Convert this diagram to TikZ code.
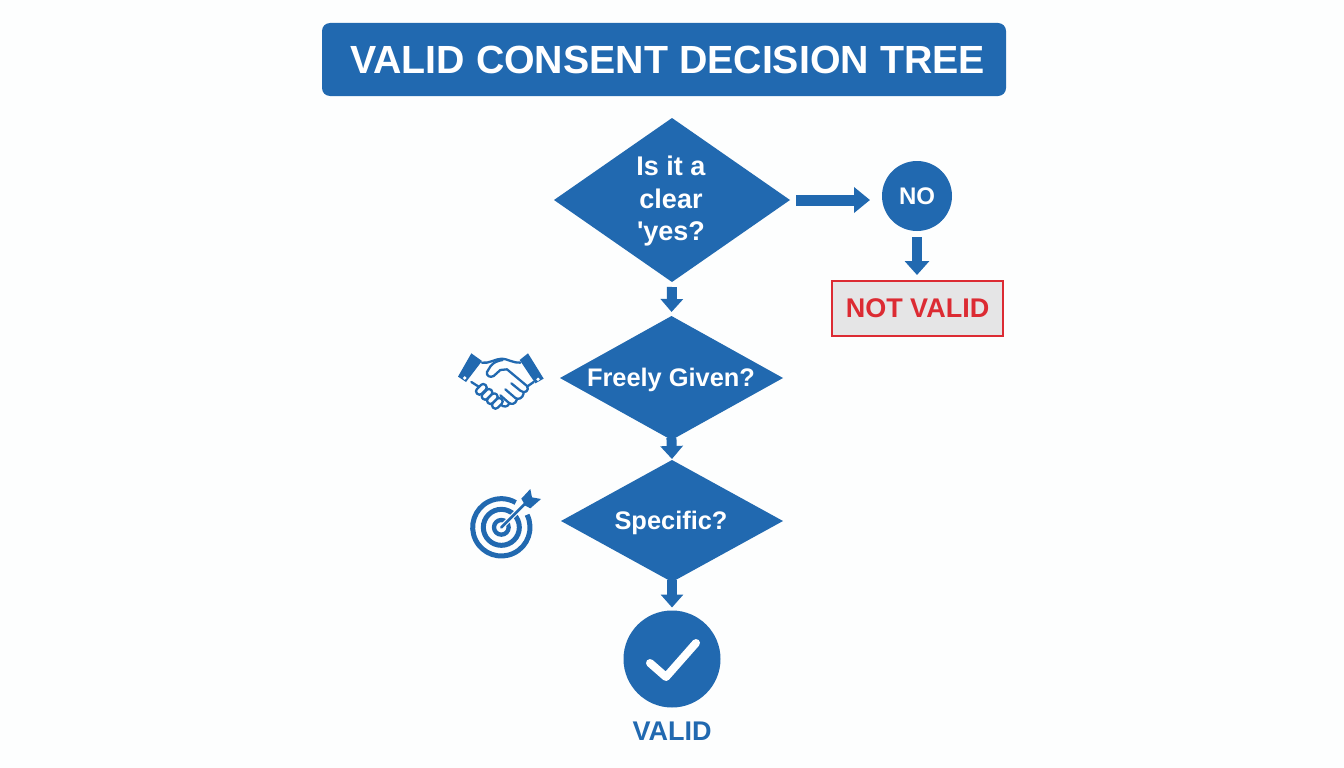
\documentclass[tikz,border=0pt]{standalone}
\usepackage{fontspec}
\setmainfont{Liberation Sans}[Ligatures=TeXOff]
\usetikzlibrary{shapes.geometric,arrows.meta}
\definecolor{cblue}{HTML}{2169B0}
\definecolor{cred}{HTML}{DC2B33}
\definecolor{cgrey}{HTML}{E5E5E6}
\definecolor{cbg}{HTML}{FDFEFE}
\tikzset{
  dia/.style={diamond,fill=cblue,inner sep=0pt,outer sep=0pt},
  lbl/.style={text=white,font=\bfseries\fontsize{25.4}{32}\selectfont,align=center,inner sep=0pt},
  conn/.style={draw=cblue,line width=10pt,-{Triangle[width=24pt,length=14pt]}},
  small conn/.style={draw=cblue,line width=10pt,-{Triangle[width=22pt,length=13pt]}},
  icon line/.style={draw=cblue,line width=2.3pt,line cap=round,line join=round},
  ring/.style={draw=cblue,line width=5pt},
}
\begin{document}
\begin{tikzpicture}[x=1pt,y=-1pt]
\useasboundingbox (0,0) rectangle (1344,768);
\fill[cbg] (0,0) rectangle (1344,768);
% title
\node[fill=cblue,rounded corners=8pt,minimum width=684pt,minimum height=73pt,inner sep=0pt,outer sep=0pt,text=white,font=\bfseries\fontsize{39.3}{42}\selectfont] (title) at (664,59.5) {\hspace*{7pt}VALID CONSENT DECISION TREE};
% diamonds
\node[dia,minimum width=236pt,minimum height=164pt] (d1) at (672,200) {};
\node[lbl,font=\bfseries\fontsize{27}{32.5}\selectfont] (t1) at (671,201.5) {Is it a\\clear\\'yes?};
\node[dia,minimum width=223pt,minimum height=124pt] (d2) at (671.5,378) {};
\node[lbl] (t2) at (671,380) {Freely Given?};
\node[dia,minimum width=222pt,minimum height=122pt] (d3) at (672,521) {};
\node[lbl] (t3) at (671,523) {Specific?};
% no
\node[circle,fill=cblue,minimum size=70pt,inner sep=0pt,outer sep=0pt,text=white,font=\bfseries\fontsize{24}{28}\selectfont] (no) at (917,196) {NO};
\node[rectangle,draw=cred,line width=2pt,fill=cgrey,minimum width=171pt,minimum height=55pt,inner sep=0pt,outer sep=0pt,text=cred,font=\bfseries\fontsize{27}{30}\selectfont] (nv) at (917.5,308.5) {NOT VALID};
% valid
\node[circle,fill=cblue,minimum size=97pt,inner sep=0pt,outer sep=0pt] (ok) at (672,659) {};
\node[text=cblue,font=\bfseries\fontsize{27}{30}\selectfont,inner sep=0pt] (vl) at (672,731) {VALID};
\draw[white,line width=8pt,line cap=round,line join=round] (650,663) -- (666,677) -- (696,643);
% connectors
\draw[conn,line width=11pt,-{Triangle[width=25pt,length=16pt]},shorten <=6pt,shorten >=12pt] (d1.east) -- (d1.east -| no.west);
\draw[conn,shorten <=6pt,shorten >=6pt] (no.south) -- (no.south |- nv.north);
\draw[small conn,shorten <=5pt,shorten >=4pt] (d1.south) -- (d2.north);
\draw[small conn,shorten <=-2pt,shorten >=1pt] (d2.south) -- (d3.north);
\draw[small conn,shorten <=-2pt,shorten >=3pt] (d3.south) -- (ok.north);
% handshake icon
\begin{scope}[shift={(452,346)},scale=1/3]
  \draw[icon line] (90,50) .. controls (110,54) and (130,38) .. (150,38) .. controls (165,38) and (185,52) .. (205,50);
  \draw[icon line] (152,42) .. controls (135,44) and (122,52) .. (116,60) -- (105,78) .. controls (102,90) and (115,96) .. (125,90) -- (145,72) -- (165,70) -- (225,120) .. controls (234,132) and (218,146) .. (205,134) -- (178,112);
  \draw[icon line] (225,122) -- (245,108);
  \draw[icon line] (58,108) -- (80,122);
  \draw[icon line] (215,142) .. controls (212,158) and (198,162) .. (190,156) -- (160,130);
  \draw[icon line] (195,160) .. controls (190,176) and (178,176) .. (170,170) -- (145,148);
  \draw[icon line] (172,172) .. controls (167,184) and (155,184) .. (146,176);
  \foreach \cx/\cy in {88/130,105/145,121/158,136/172}
    \draw[icon line,fill=cbg,rounded corners=3pt,rotate around={45:(\cx,\cy)}] (\cx-18,\cy-10) rectangle (\cx+18,\cy+10);
  \fill[cblue] (58,22) -- (90,45) -- (42,108) -- (18,92) -- cycle;
  \fill[cblue] (228,22) -- (203,42) -- (250,112) -- (275,98) -- cycle;
  \fill[white] (38,96) circle (5.5);
  \fill[white] (258,100) circle (5.5);
\end{scope}
% target icon
\begin{scope}[shift={(462,484)},scale=1/3]
  \draw[ring] (118,130) ++(-26:86) arc[start angle=-26,end angle=300,radius=86];
  \draw[ring] (118,130) circle (54);
  \draw[ring,line width=4.3pt] (118,130) circle (22);
  \draw[cbg,line width=5pt] (118,130) -- (180,68);
  \draw[cblue,line width=2.7pt,line cap=round] (118,130) -- (195,53);
  \fill[cblue] (178,44) -- (205,15) -- (210,40) -- (237,45) -- (205,73) -- (190,65) -- cycle;
\end{scope}
\end{tikzpicture}
\end{document}
